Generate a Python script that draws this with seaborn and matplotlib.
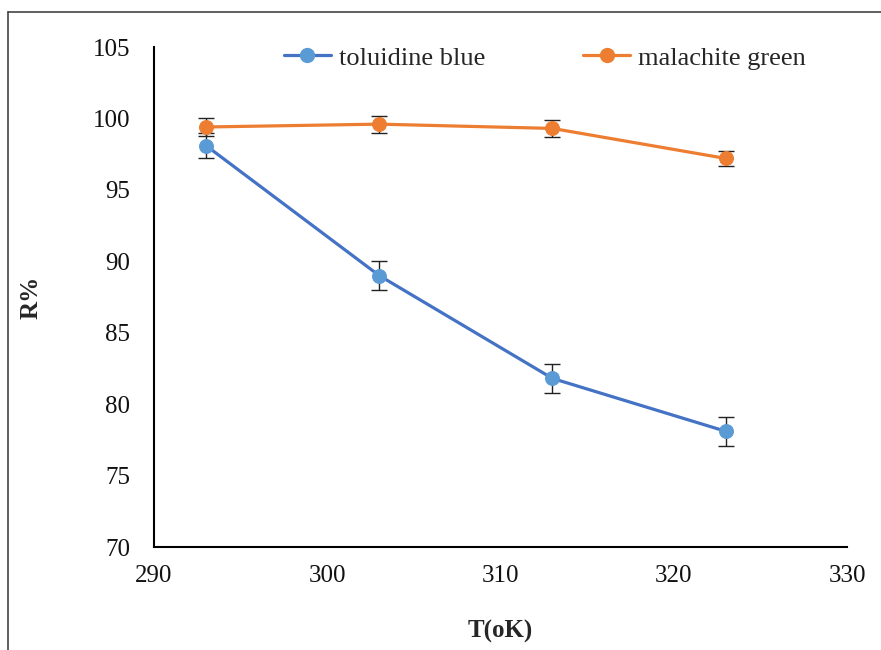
import matplotlib
matplotlib.use("Agg")
import matplotlib.pyplot as plt
import seaborn as sns
import pandas as pd
from matplotlib.lines import Line2D

temps = [293, 303, 313, 323]
toluidine = [98.1, 89.0, 81.8, 78.1]
toluidine_err = [0.9, 1.0, 1.0, 1.0]
malachite = [99.4, 99.6, 99.3, 97.2]
malachite_err = [0.6, 0.6, 0.6, 0.55]
series_names = ["toluidine blue", "malachite green"]
x_ticks = [290, 300, 310, 320, 330]
y_ticks = [70, 75, 80, 85, 90, 95, 100, 105]

sns.set_theme(style="white")
plt.rcParams['font.family'] = ['Liberation Serif', 'DejaVu Serif']

fig = plt.figure(figsize=(8.81, 6.5), dpi=100)
ax = fig.add_axes([154/881, 1-547/650, (847-154)/881, (547-47)/650])

df = pd.DataFrame({"T": temps * 2,
                   "R": toluidine + malachite,
                   "err": toluidine_err + malachite_err,
                   "series": [series_names[0]]*4 + [series_names[1]]*4})

styles = {series_names[0]: dict(line="#4472C4", face="#5B9BD5"),
          series_names[1]: dict(line="#ED7D31", face="#ED7D31")}

handles = []
for name in series_names:
    sub = df[df.series == name]
    st = styles[name]
    ax.errorbar(sub["T"], sub["R"], yerr=sub["err"], fmt='none',
                ecolor="#222222", elinewidth=1.0, capsize=6, capthick=1.0, zorder=2)
    sns.lineplot(x=sub["T"], y=sub["R"], ax=ax, color=st["line"], linewidth=2.3,
                 marker='o', markersize=10, markerfacecolor=st["face"],
                 markeredgecolor=st["face"], zorder=3, legend=False)
    handles.append(Line2D([0], [0], color=st["line"], linewidth=2.3, marker='o',
                          markersize=10, markerfacecolor=st["face"],
                          markeredgecolor=st["face"], label=name))

ax.set_xlim(290, 330)
ax.set_ylim(70, 105)
ax.set_xticks(x_ticks)
ax.set_yticks(y_ticks)
ax.tick_params(axis='both', length=0, labelsize=18, colors="#111111")
ax.tick_params(axis='x', pad=13)
ax.tick_params(axis='y', pad=17)
for s in ["top", "right"]:
    ax.spines[s].set_visible(False)
for s in ["left", "bottom"]:
    ax.spines[s].set_color("black")
    ax.spines[s].set_linewidth(1.5)

ax.set_xlabel("T(oK)", fontsize=18, fontweight='bold', labelpad=24)
ax.set_ylabel("R%", fontsize=18, fontweight='bold', labelpad=36)

ax.legend(handles=handles, loc='center', bbox_to_anchor=(0.564, 0.978), ncol=2,
          frameon=False, fontsize=19, handlelength=1.8, handletextpad=0.3,
          columnspacing=3.7)

# chart border
fig.add_artist(Line2D([8/881, 8/881], [0, 1-12/650], transform=fig.transFigure,
                      color="#444444", linewidth=1.2))
fig.add_artist(Line2D([8/881, 1], [1-12/650, 1-12/650], transform=fig.transFigure,
                      color="#444444", linewidth=1.2))

fig.savefig("out.png", dpi=100)
